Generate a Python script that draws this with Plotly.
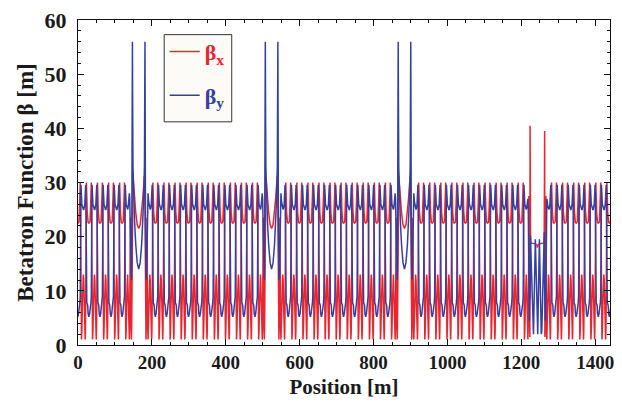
import numpy as np
import plotly.graph_objects as go

# ---- Lattice layout (metres) ----
CIRCUMFERENCE = 1438.8
CELL_LENGTH = 29.96                 # normal DBA cell
LSS_TO_FIRST_ID = 45.03             # long-straight centre -> first normal ID centre
LSS_CENTERS = [164.3, 524.0, 883.7] # standard long straight sections
SPECIAL_LSS_CENTER = 1243.4         # modified long straight section
CELLS_PER_ARC = 10

# ---- Half normal cell: ID-straight centre -> achromat centre ----
CELL_S  = [0.0, 2.0, 3.2, 4.5, 5.6, 6.6, 7.3, 8.0, 8.6, 9.3, 10.0, 11.0, 12.5, 13.8, 14.98]
CELL_BX = [22.5, 22.6, 22.9, 24.5, 27.5, 30.0, 25.0, 14.0, 7.0, 2.5, 1.0, 2.5, 7.5, 12.0, 13.0]
CELL_BY = [5.2, 5.8, 7.3, 7.6, 7.8, 9.0, 16.0, 27.0, 29.6, 28.8, 27.5, 26.0, 25.3, 25.0, 25.0]

# ---- Half standard long straight: LSS centre -> neighbouring achromat centre ----
LSS_S  = [0.0, 4.0, 8.0, 11.0, 13.5, 15.5, 16.4, 17.0, 17.6, 18.3, 19.0, 19.8, 20.8,
          21.8, 22.6, 23.4, 24.3, 25.3, 26.8, 28.5, 30.07]
LSS_BX = [21.5, 22.2, 24.5, 27.0, 29.5, 31.2, 30.0, 26.0, 17.0, 9.0, 3.0, 1.0, 4.0,
          12.0, 23.5, 14.0, 4.0, 1.0, 4.5, 9.5, 13.0]
LSS_BY = [14.0, 15.2, 18.6, 22.6, 27.0, 33.0, 45.0, 56.0, 42.0, 24.0, 14.0, 12.0, 12.5,
          15.0, 18.0, 23.0, 27.0, 28.0, 26.5, 25.5, 25.0]

# ---- Modified long straight, full section around its centre ----
SPECIAL_S  = [-30.07, -28.5, -26.8, -25.6, -24.6, -23.8, -23.0, -22.3, -21.6, -21.0, -20.4,
              -20.0, -19.7, -19.2, -18.5, -16.5, -12.0, -10.5, -5.5, -1.0, 0.0, 1.0, 5.5,
              10.5, 12.0, 16.5, 18.5, 19.2, 19.7, 20.0, 20.4, 21.0, 21.6, 22.3, 23.0, 23.8,
              24.6, 25.6, 26.8, 28.5, 30.07]
SPECIAL_BX = [13.0, 9.5, 4.5, 1.0, 4.0, 12.0, 27.5, 20.0, 8.0, 2.0, 1.5,
              20.0, 40.5, 28.0, 19.2, 18.8, 18.8, 18.8, 18.7, 18.4, 18.0, 18.4, 18.7,
              18.8, 18.8, 18.8, 19.5, 28.0, 39.5, 20.0, 1.5, 2.0, 8.0, 20.0, 27.5, 12.0,
              4.0, 1.0, 4.5, 9.5, 13.0]
SPECIAL_BY = [25.0, 25.5, 26.5, 27.0, 25.0, 18.0, 9.0, 5.0, 4.5, 7.0, 9.5,
              10.0, 8.5, 12.0, 20.2, 15.0, 2.5, 2.0, 19.5, 2.0, 2.0, 2.0, 19.5,
              2.0, 2.5, 15.0, 20.8, 12.0, 8.5, 9.0, 8.0, 6.0, 4.5, 5.0, 9.0, 18.0,
              25.0, 27.0, 26.5, 25.5, 25.0]


def mirrored(center, s, bx, by):
    """Symmetric element: template runs from the centre outward on both sides."""
    s = np.asarray(s)
    pts_s = np.concatenate([center - s[::-1], center + s[1:]])
    pts_x = np.concatenate([np.asarray(bx)[::-1], np.asarray(bx)[1:]])
    pts_y = np.concatenate([np.asarray(by)[::-1], np.asarray(by)[1:]])
    return pts_s, pts_x, pts_y


# Build the ring optics element by element
parts = []
all_lss = LSS_CENTERS + [SPECIAL_LSS_CENTER]
for c in [SPECIAL_LSS_CENTER - CIRCUMFERENCE] + all_lss:
    for n in range(CELLS_PER_ARC):
        idc = c + LSS_TO_FIRST_ID + n * CELL_LENGTH
        if -40 < idc < CIRCUMFERENCE + 40:
            parts.append(mirrored(idc, CELL_S, CELL_BX, CELL_BY))
for c in LSS_CENTERS:
    parts.append(mirrored(c, LSS_S, LSS_BX, LSS_BY))
parts.append((SPECIAL_LSS_CENTER + np.asarray(SPECIAL_S),
              np.asarray(SPECIAL_BX), np.asarray(SPECIAL_BY)))

s_all = np.concatenate([p[0] for p in parts])
bx_all = np.concatenate([p[1] for p in parts])
by_all = np.concatenate([p[2] for p in parts])
order = np.argsort(s_all, kind="stable")
s_all, bx_all, by_all = s_all[order], bx_all[order], by_all[order]
_, keep = np.unique(np.round(s_all, 2), return_index=True)
s_all, bx_all, by_all = s_all[keep], bx_all[keep], by_all[keep]

RED = "rgb(232,38,48)"
BLUE = "rgb(52,64,160)"
FONT = "Liberation Serif"
INK = "#1a1a1a"

fig = go.Figure()
fig.add_trace(go.Scatter(
    x=s_all, y=bx_all, mode="lines", line=dict(color=RED, width=1.5),
    name=f"<span style='color:{RED}'>β<sub>x</sub></span>", legendgroup="x"))
fig.add_trace(go.Scatter(
    x=s_all, y=by_all, mode="lines", line=dict(color=BLUE, width=1.5),
    name=f"<span style='color:{BLUE}'>β<sub>y</sub></span>", legendgroup="y"))

axis_common = dict(
    showline=True, linecolor="#111", linewidth=1, mirror="allticks",
    ticks="inside", ticklen=6, tickwidth=1, tickcolor="#111",
    showgrid=False, zeroline=False,
)

# Legend frame: drawn in axis units behind the legend entries
fig.add_shape(type="rect", xref="paper", yref="y",
              x0=0.162, x1=0.289, y0=41.2, y1=57.3,
              line=dict(color="#333", width=1), fillcolor="#fcfbf8", layer="below")

fig.update_layout(
    width=622, height=403,
    margin=dict(l=78, r=8, t=20, b=58),
    plot_bgcolor="white", paper_bgcolor="white",
    font=dict(family=FONT, color=INK),
    xaxis=dict(
        range=[0, 1440], dtick=200, tick0=0,
        minor=dict(dtick=50, ticklen=3, ticks="inside", tickcolor="#111"),
        tickfont=dict(family=FONT, size=19, weight="bold", color=INK),
        title=dict(text="Position [m]", standoff=7,
                   font=dict(family=FONT, size=21, weight="bold", color=INK)),
        **axis_common,
    ),
    yaxis=dict(
        range=[0, 60], dtick=10, tick0=0,
        minor=dict(dtick=2, ticklen=3, ticks="inside", tickcolor="#111"),
        tickfont=dict(family=FONT, size=22, weight="bold", color=INK),
        ticklabelstandoff=6,
        title=dict(text="Betatron Function β [m]", standoff=4,
                   font=dict(family=FONT, size=23, weight="bold", color=INK)),
        **axis_common,
    ),
    showlegend=True,
    legend=dict(
        x=0.163, y=0.967, xanchor="left", yanchor="top",
        bgcolor="rgba(0,0,0,0)", borderwidth=0,
        font=dict(family=FONT, size=22, weight="bold"),
        tracegroupgap=12, itemwidth=30,
    ),
)

fig.write_html("out.html")
